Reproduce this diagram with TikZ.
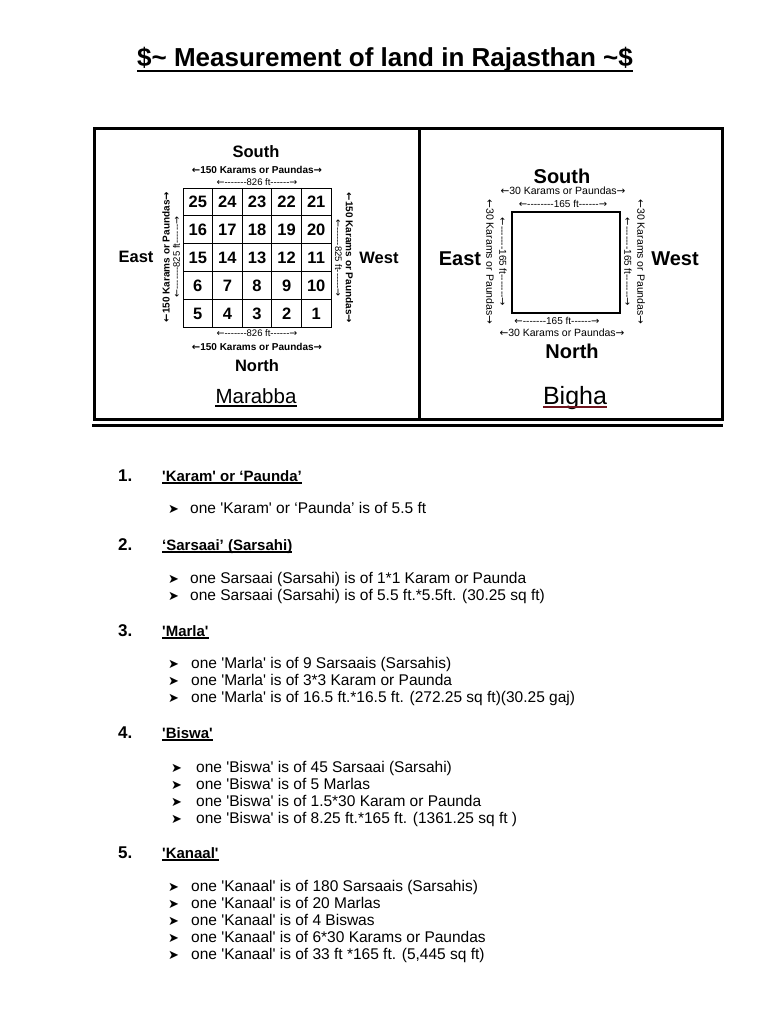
\documentclass[tikz,border=0pt]{standalone}
\usepackage{fontspec}
\usetikzlibrary{positioning}
\newfontfamily\arial{Liberation Sans}
\newfontfamily\symfont{DejaVu Sans}
\newcommand{\fsz}[1]{\fontsize{#1}{#1}\selectfont}
\newcommand{\la}{{\symfont ←}}
\newcommand{\ra}{{\symfont →}}
\definecolor{ulRed}{RGB}{110,20,30}

\begin{document}
\begin{tikzpicture}[x=1pt,y=-1pt,
    txt/.style={inner sep=0pt,font=\arial\fsz{15.5}},
    headtxt/.style={inner sep=0pt,font=\arial\bfseries\fsz{15}},
    numtxt/.style={inner sep=0pt,font=\arial\bfseries\fsz{17}},
    bul/.style={inner sep=0pt,font=\symfont\fsz{13}},
    compass/.style={inner sep=0pt,font=\arial\bfseries\fsz{16.5}},
    bigcompass/.style={inner sep=0pt,font=\arial\bfseries\fsz{20}},
    dimk/.style={inner sep=0pt,font=\arial\bfseries\fsz{10}},
    dimf/.style={inner sep=0pt,font=\arial\fsz{9.5}},
    bdimk/.style={inner sep=0pt,font=\arial\fsz{10.5}},
    bdimf/.style={inner sep=0pt,font=\arial\fsz{10}},
    cellnum/.style={inner sep=0pt,anchor=base,font=\arial\bfseries\fsz{16.5}},
    uline/.style={line width=1.1pt},
    frame/.style={line width=3pt}
  ]
    \useasboundingbox[fill=white] (0,0) rectangle (768,1024);

    % title
    \node[inner sep=0pt,font=\arial\bfseries\fsz{26},anchor=base] (title) at (385,67) {\$\textasciitilde{} Measurement of land in Rajasthan \textasciitilde\$};
    \draw[line width=2pt] ([yshift=-4pt]title.base west) -- ([yshift=-4pt]title.base east);

    % frame round the two plans
    \draw[frame] (94,129) rectangle (722,419);
    \draw[frame] (419,129) -- (419,419);
    \draw[line width=2.5pt] (92,425.5) -- (723,425.5);

    % Marabba
    \node[compass] (msouth) at (256,152) {South};
    \node[dimk] (mtopk) at (257,170) {\la150 Karams or Paundas\ra};
    \node[dimf] (mtopf) at (257,182) {\la-------826 ft------\ra};
    \draw[line width=0.8pt] (183,188) rectangle (331,327);
    \foreach \i in {1,...,4} {
      \draw[line width=0.8pt] ({183+29.6*\i},188) -- ({183+29.6*\i},327);
      \draw[line width=0.8pt] (183,{188+27.8*\i}) -- (331,{188+27.8*\i});
    }
    \foreach \row [count=\r] in {{25,24,23,22,21},{16,17,18,19,20},{15,14,13,12,11},{6,7,8,9,10},{5,4,3,2,1}}
      \foreach \n [count=\c] in \row
        \node[cellnum] (m\n) at ({183+29.6*(\c-0.5)},{188+27.8*(\r-0.5)+6}) {\n};
    \node[compass] (meast) at (136,257) {East};
    \node[compass] (mwest) at (379,258) {West};
    \node[dimk,rotate=90] (mleftk) at (166,257) {\la150 Karams or Paundas\ra};
    \node[dimf,rotate=90] (mleftf) at (176.5,257) {\la-------825 ft------\ra};
    \node[dimf,rotate=-90] (mrightf) at (338.5,258) {\la------825 ft------\ra};
    \node[dimk,rotate=-90] (mrightk) at (349.5,258) {\la150 Karams or Paundas\ra};
    \node[dimf] (mbotf) at (257,333) {\la-------826 ft------\ra};
    \node[dimk] (mbotk) at (257,347) {\la150 Karams or Paundas\ra};
    \node[compass] (mnorth) at (257,366) {North};
    \node[inner sep=0pt,font=\arial\fsz{20.5},anchor=base] (marabba) at (256,403) {Marabba};
    \draw[uline,line width=1.5pt] ([yshift=-3pt]marabba.base west) -- ([yshift=-3pt]marabba.base east);

    % Bigha
    \node[bigcompass] (bsouth) at (562,176) {South};
    \node[bdimk] (btopk) at (563,191) {\la30 Karams or Paundas\ra};
    \node[bdimf] (btopf) at (563,204) {\la--------165 ft------\ra};
    \draw[line width=1.2pt] (512,212) rectangle (620,313);
    \node[bigcompass] (beast) at (460,259) {East};
    \node[bigcompass] (bwest) at (675,259) {West};
    \node[bdimk,rotate=-90] (bleftk) at (490,262) {\la30 Karams or Paundas\ra};
    \node[bdimf,rotate=-90] (bleftf) at (503,262) {\la-------165 ft-------\ra};
    \node[bdimf,rotate=-90] (brightf) at (628,262) {\la-------165 ft-------\ra};
    \node[bdimk,rotate=-90] (brightk) at (641,262) {\la30 Karams or Paundas\ra};
    \node[bdimf] (bbotf) at (557,321) {\la-------165 ft------\ra};
    \node[bdimk] (bbotk) at (562,333) {\la30 Karams or Paundas\ra};
    \node[bigcompass] (bnorth) at (572,351) {North};
    \node[inner sep=0pt,font=\arial\fsz{25},anchor=base] (bigha) at (575,404) {Bigha};
    \draw[line width=1.5pt,draw=ulRed] ([yshift=-3pt]bigha.base west) -- ([yshift=-3pt]bigha.base east);

    % 1. Karam
    \node[numtxt,anchor=base west] (n1) at (118,481) {1.};
    \node[headtxt,anchor=base west] (h1) at (162,481) {'Karam' or ‘Paunda’};
    \draw[uline] ([yshift=-2pt]h1.base west) -- ([yshift=-2pt]h1.base east);
    \node[bul,anchor=base west] (b11) at (168,513) {➤};
    \node[txt,anchor=base west] (t11) at (190,513) {one 'Karam' or ‘Paunda’ is of 5.5 ft};

    % 2. Sarsaai
    \node[numtxt,anchor=base west] (n2) at (118,550) {2.};
    \node[headtxt,anchor=base west] (h2) at (162,550) {‘Sarsaai’ (Sarsahi)};
    \draw[uline] ([yshift=-2pt]h2.base west) -- ([yshift=-2pt]h2.base east);
    \node[bul,anchor=base west] (b21) at (168,583) {➤};
    \node[txt,anchor=base west] (t21) at (190,583) {one Sarsaai (Sarsahi) is of 1*1 Karam or Paunda};
    \node[bul,anchor=base west] (b22) at (168,600) {➤};
    \node[txt,anchor=base west] (t22) at (190,600) {one Sarsaai (Sarsahi) is of 5.5 ft.*5.5ft. (30.25 sq ft)};

    % 3. Marla
    \node[numtxt,anchor=base west] (n3) at (118,636) {3.};
    \node[headtxt,anchor=base west] (h3) at (162,636) {'Marla'};
    \draw[uline] ([yshift=-2pt]h3.base west) -- ([yshift=-2pt]h3.base east);
    \node[bul,anchor=base west] (b31) at (168,668) {➤};
    \node[txt,anchor=base west] (t31) at (191,668) {one 'Marla' is of 9 Sarsaais (Sarsahis)};
    \node[bul,anchor=base west] (b32) at (168,685) {➤};
    \node[txt,anchor=base west] (t32) at (191,685) {one 'Marla' is of 3*3 Karam or Paunda};
    \node[bul,anchor=base west] (b33) at (168,702) {➤};
    \node[txt,anchor=base west] (t33) at (191,702) {one 'Marla' is of 16.5 ft.*16.5 ft. (272.25 sq ft)(30.25 gaj)};

    % 4. Biswa
    \node[numtxt,anchor=base west] (n4) at (118,738) {4.};
    \node[headtxt,anchor=base west] (h4) at (162,738) {'Biswa'};
    \draw[uline] ([yshift=-2pt]h4.base west) -- ([yshift=-2pt]h4.base east);
    \node[bul,anchor=base west] (b41) at (171,772) {➤};
    \node[txt,anchor=base west] (t41) at (196,772) {one 'Biswa' is of 45 Sarsaai (Sarsahi)};
    \node[bul,anchor=base west] (b42) at (171,789) {➤};
    \node[txt,anchor=base west] (t42) at (196,789) {one 'Biswa' is of 5 Marlas};
    \node[bul,anchor=base west] (b43) at (171,806) {➤};
    \node[txt,anchor=base west] (t43) at (196,806) {one 'Biswa' is of 1.5*30 Karam or Paunda};
    \node[bul,anchor=base west] (b44) at (171,823) {➤};
    \node[txt,anchor=base west] (t44) at (196,823) {one 'Biswa' is of 8.25 ft.*165 ft. (1361.25 sq ft )};

    % 5. Kanaal
    \node[numtxt,anchor=base west] (n5) at (118,858) {5.};
    \node[headtxt,anchor=base west] (h5) at (162,858) {'Kanaal'};
    \draw[uline] ([yshift=-2pt]h5.base west) -- ([yshift=-2pt]h5.base east);
    \node[bul,anchor=base west] (b51) at (168,891) {➤};
    \node[txt,anchor=base west] (t51) at (191,891) {one 'Kanaal' is of 180 Sarsaais (Sarsahis)};
    \node[bul,anchor=base west] (b52) at (168,908) {➤};
    \node[txt,anchor=base west] (t52) at (191,908) {one 'Kanaal' is of 20 Marlas};
    \node[bul,anchor=base west] (b53) at (168,925) {➤};
    \node[txt,anchor=base west] (t53) at (191,925) {one 'Kanaal' is of 4 Biswas};
    \node[bul,anchor=base west] (b54) at (168,942) {➤};
    \node[txt,anchor=base west] (t54) at (191,942) {one 'Kanaal' is of 6*30 Karams or Paundas};
    \node[bul,anchor=base west] (b55) at (168,959) {➤};
    \node[txt,anchor=base west] (t55) at (191,959) {one 'Kanaal' is of 33 ft *165 ft. (5,445 sq ft)};
  \end{tikzpicture}
\end{document}
